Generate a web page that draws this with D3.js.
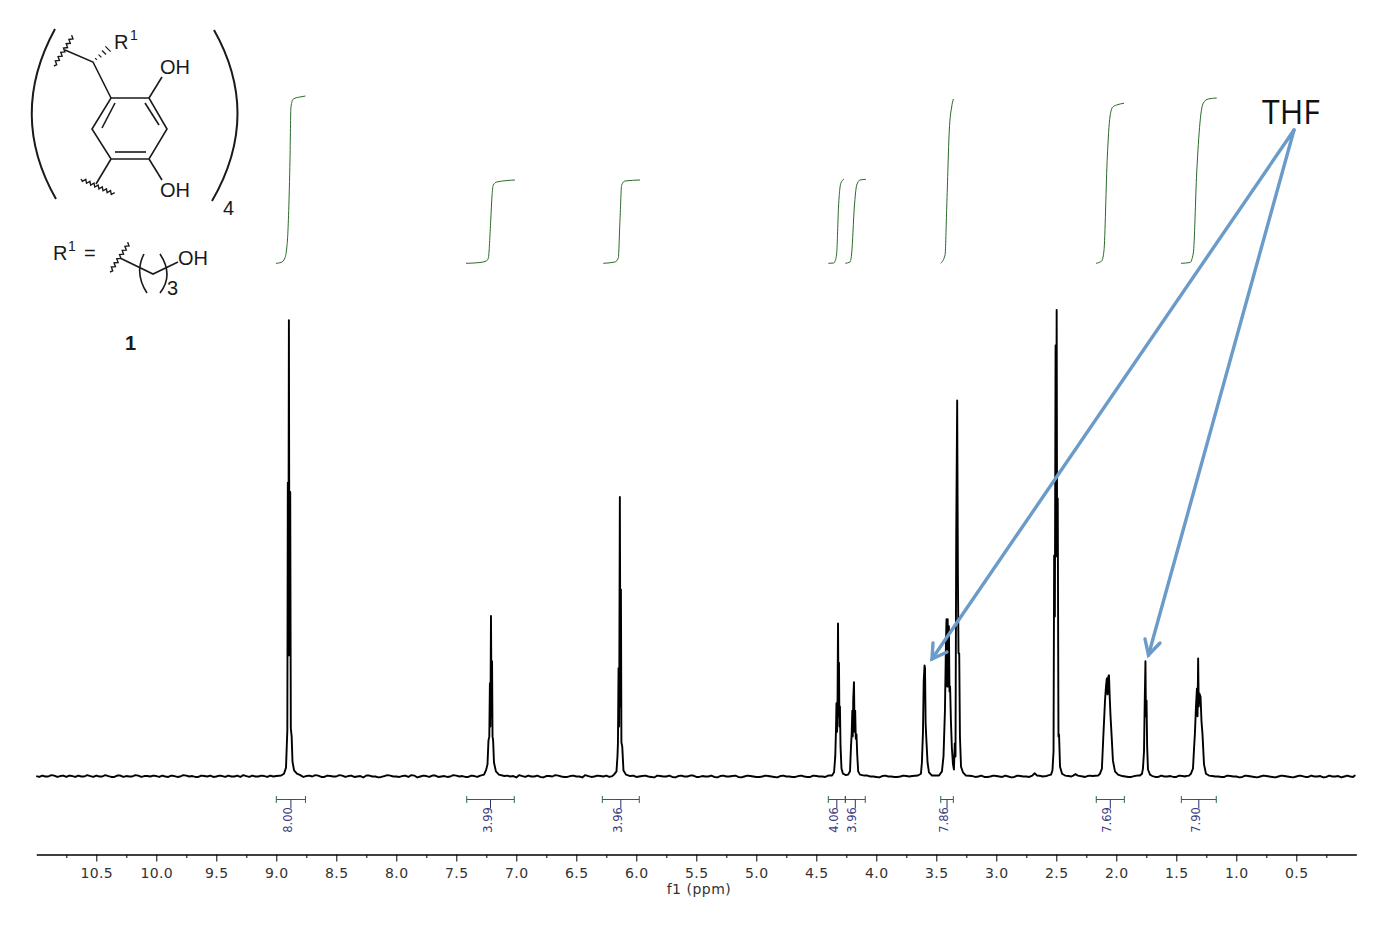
<!DOCTYPE html>
<html>
<head>
<meta charset="utf-8">
<script src="https://cdnjs.cloudflare.com/ajax/libs/d3/7.8.5/d3.min.js"></script>
<style>
  body { margin: 0; background: #fff; }
  svg { display: block; }
  .chem { font-family: "Liberation Sans", Arial, sans-serif; fill: #1a1a1a; }
</style>
</head>
<body>
<script>
// axis ticks (ppm)
var majorTicks = [10.5, 10.0, 9.5, 9.0, 8.5, 8.0, 7.5, 7.0, 6.5, 6.0, 5.5, 5.0, 4.5, 4.0, 3.5, 3.0, 2.5, 2.0, 1.5, 1.0, 0.5];
var minorTicks = [10.75, 10.25, 9.75, 9.25, 8.75, 8.25, 7.75, 7.25, 6.75, 6.25, 5.75, 5.25, 4.75, 4.25, 3.75, 3.25, 2.75, 2.25, 1.75, 1.25, 0.75, 0.25];

// baseline between the peaks
var baselinePpm = [
  11.00, 10.95, 10.90, 10.85, 10.80, 10.75, 10.70, 10.65, 10.60, 10.55,
  10.50, 10.45, 10.40, 10.35, 10.30, 10.25, 10.20, 10.15, 10.10, 10.05,
  10.00, 9.95, 9.90, 9.85, 9.80, 9.75, 9.70, 9.65, 9.60, 9.55,
  9.50, 9.45, 9.40, 9.35, 9.30, 9.25, 9.20, 9.15, 9.10, 9.05,
  9.00, 8.96, 8.80, 8.75, 8.70, 8.65, 8.60, 8.55, 8.50, 8.45,
  8.40, 8.35, 8.30, 8.25, 8.20, 8.15, 8.10, 8.05, 8.00, 7.95,
  7.90, 7.85, 7.80, 7.75, 7.70, 7.65, 7.60, 7.55, 7.50, 7.45,
  7.40, 7.35, 7.30, 7.10, 7.05, 7.00, 6.95, 6.90, 6.85, 6.80,
  6.75, 6.70, 6.65, 6.60, 6.55, 6.50, 6.45, 6.40, 6.35, 6.30,
  6.25, 6.20, 6.05, 6.00, 5.95, 5.90, 5.85, 5.80, 5.75, 5.70,
  5.65, 5.60, 5.55, 5.50, 5.45, 5.40, 5.35, 5.30, 5.25, 5.20,
  5.15, 5.10, 5.05, 5.00, 4.95, 4.90, 4.85, 4.80, 4.75, 4.70,
  4.65, 4.60, 4.55, 4.50, 4.45, 4.40, 4.10, 4.05, 4.00, 3.95,
  3.90, 3.85, 3.80, 3.75, 3.70, 3.20, 3.15, 3.10, 3.05, 3.00,
  2.95, 2.90, 2.85, 2.80, 2.75, 2.70, 2.68, 2.66, 2.62, 2.58,
  2.40, 2.36, 2.34, 2.32, 2.28, 2.24, 2.20, 1.95, 1.90, 1.85,
  1.70, 1.65, 1.60, 1.55, 1.50, 1.45, 1.42, 1.20, 1.15, 1.10,
  1.05, 1.00, 0.95, 0.90, 0.85, 0.80, 0.75, 0.70, 0.65, 0.60,
  0.55, 0.50, 0.45, 0.40, 0.35, 0.30, 0.25, 0.20, 0.15, 0.10
];
var baselineIntensity = [
  0.1, 0.2, 0.0, 0.2, 0.1, -0.1, 0.1, 0.2, 0.0, 0.1,
  0.2, 0.0, 0.1, -0.1, 0.2, 0.1, 0.0, 0.2, 0.1, 0.0,
  0.1, 0.2, -0.1, 0.1, 0.0, 0.2, 0.1, -0.1, 0.1, 0.2,
  0.0, 0.1, 0.2, 0.0, -0.1, 0.1, 0.2, 0.0, 0.1, 0.2,
  0.1, 0.2, 0.3, 0.1, 0.0, 0.2, -0.1, 0.1, 0.0, 0.2,
  0.1, -0.1, 0.1, 0.2, 0.0, -0.2, 0.1, 0.2, 0.0, 0.1,
  -0.1, 0.2, 0.0, 0.1, 0.2, -0.1, 0.1, 0.0, 0.2, 0.1,
  -0.1, 0.1, 0.2, 0.1, 0.0, -0.2, 0.1, 0.2, 0.0, -0.1,
  0.1, 0.0, 0.2, -0.1, 0.1, 0.0, -0.2, 0.1, 0.0, 0.1,
  0.2, 0.1, 0.1, -0.1, 0.1, 0.0, -0.2, 0.1, 0.0, -0.1,
  0.1, 0.0, 0.2, -0.1, 0.1, 0.0, -0.1, 0.1, 0.0, 0.1,
  -0.1, 0.0, 0.1, -0.1, 0.0, 0.1, -0.1, 0.1, 0.0, -0.1,
  0.1, 0.0, -0.1, 0.1, 0.0, 0.2, 0.2, 0.0, -0.1, 0.1,
  0.0, -0.1, 0.0, 0.1, 0.1, 0.1, 0.0, -0.1, 0.0, 0.1,
  -0.1, 0.0, -0.1, 0.1, 0.0, 0.2, 0.7, 0.2, 0.0, 0.1,
  0.1, 0.2, 0.5, 0.2, 0.0, 0.1, 0.1, 0.1, -0.1, 0.1,
  0.1, -0.1, 0.0, 0.1, -0.1, 0.1, 0.1, 0.1, 0.0, -0.1,
  0.1, 0.0, -0.1, 0.1, -0.1, 0.0, 0.1, -0.1, 0.0, 0.1,
  -0.1, 0.0, 0.1, -0.1, 0.0, 0.1, -0.1, 0.0, 0.1, 0.0
];

// second pass over the baseline, halfway between the points above
var noisePpm = [
  10.975, 10.925, 10.875, 10.825, 10.775, 10.725, 10.675, 10.625, 10.575, 10.525,
  10.475, 10.425, 10.375, 10.325, 10.275, 10.225, 10.175, 10.125, 10.075, 10.025,
  9.975, 9.925, 9.875, 9.825, 9.775, 9.725, 9.675, 9.625, 9.575, 9.525,
  9.475, 9.425, 9.375, 9.325, 9.275, 9.225, 9.175, 9.125, 9.075, 9.025,
  8.775, 8.725, 8.675, 8.625, 8.575, 8.525, 8.475, 8.425, 8.375, 8.325,
  8.275, 8.225, 8.175, 8.125, 8.075, 8.025, 7.975, 7.925, 7.875, 7.825,
  7.775, 7.725, 7.675, 7.625, 7.575, 7.525, 7.475, 7.425, 7.375, 7.325,
  7.075, 7.025, 6.975, 6.925, 6.875, 6.825, 6.775, 6.725, 6.675, 6.625,
  6.575, 6.525, 6.475, 6.425, 6.375, 6.325, 6.275, 6.225, 6.025, 5.975,
  5.925, 5.875, 5.825, 5.775, 5.725, 5.675, 5.625, 5.575, 5.525, 5.475,
  5.425, 5.375, 5.325, 5.275, 5.225, 5.175, 5.125, 5.075, 5.025, 4.975,
  4.925, 4.875, 4.825, 4.775, 4.725, 4.675, 4.625, 4.575, 4.525, 4.475,
  4.425, 4.075, 4.025, 3.975, 3.925, 3.875, 3.825, 3.775, 3.725, 3.175,
  3.125, 3.075, 3.025, 2.975, 2.925, 2.875, 2.825, 2.775, 2.725, 2.625,
  2.575, 2.375, 2.26, 2.22, 1.925, 1.875, 1.825, 1.675, 1.625, 1.575,
  1.525, 1.475, 1.425, 1.175, 1.125, 1.075, 1.025, 0.975, 0.925, 0.875,
  0.825, 0.775, 0.725, 0.675, 0.625, 0.575, 0.525, 0.475, 0.425, 0.375,
  0.325, 0.275, 0.225, 0.175, 0.125, 0.075, 0.05, 0.025, 0.015, 0.01
];
var noiseIntensity = [
  -0.1, 0.0, 0.3, -0.1, 0.2, 0.2, -0.1, 0.0, 0.3, -0.1,
  0.0, 0.3, -0.1, 0.2, -0.1, 0.0, 0.3, -0.1, 0.1, 0.2,
  -0.1, 0.0, 0.2, -0.1, 0.3, 0.0, -0.1, 0.2, 0.0, -0.1,
  0.2, -0.1, 0.0, 0.2, 0.3, -0.1, 0.0, 0.2, -0.1, 0.0,
  -0.1, 0.2, 0.3, -0.1, 0.2, 0.0, 0.3, -0.1, 0.2, 0.0,
  -0.2, 0.2, 0.0, -0.1, 0.3, 0.0, -0.1, 0.2, 0.3, -0.2,
  0.2, -0.1, 0.2, 0.0, -0.1, 0.3, 0.0, -0.1, 0.2, -0.1,
  0.2, 0.1, 0.3, -0.1, 0.0, 0.2, -0.2, 0.1, 0.3, 0.0,
  -0.1, 0.2, 0.0, 0.3, -0.1, 0.2, 0.0, -0.1, 0.2, 0.0,
  0.2, -0.1, 0.2, 0.0, 0.2, -0.2, 0.2, 0.0, 0.2, -0.1,
  0.0, 0.2, -0.2, 0.2, 0.0, 0.2, -0.2, 0.2, 0.0, -0.1,
  0.2, 0.0, -0.2, 0.2, 0.0, -0.1, 0.2, -0.1, 0.2, 0.0,
  -0.1, 0.2, 0.0, -0.2, 0.2, 0.0, -0.1, 0.2, 0.0, -0.1,
  0.2, -0.1, 0.2, 0.0, 0.2, -0.2, 0.2, 0.0, -0.1, 0.1,
  0.2, 0.0, -0.1, 0.2, 0.0, -0.1, 0.2, -0.1, 0.2, 0.0,
  -0.1, 0.2, 0.0, 0.0, -0.1, 0.2, 0.0, -0.2, 0.2, 0.0,
  -0.2, 0.2, 0.0, -0.2, 0.2, 0.0, -0.2, 0.2, -0.1, 0.2,
  0.0, -0.2, 0.2, 0.0, -0.2, 0.2, 0.0, -0.1, 0.2, 0.0
];

// peak shapes, intensity as % of the tallest line (solvent at 2.5)
var peak89Ppm = [8.936, 8.919, 8.913, 8.908, 8.904, 8.900, 8.895, 8.890, 8.884, 8.879, 8.872, 8.865, 8.852, 8.828];
var peak89Int = [0.6, 1.9, 6.4, 9.9, 63, 26, 97.8, 26, 61, 10.3, 8.6, 3.2, 1.3, 0.6];
var peak72Ppm = [7.269, 7.253, 7.240, 7.232, 7.225, 7.220, 7.216, 7.211, 7.206, 7.202, 7.198, 7.193, 7.186, 7.170, 7.145];
var peak72Int = [0.4, 1.3, 2.6, 7.7, 8.6, 20, 10.7, 34.4, 12.9, 24.7, 8.6, 7.7, 3, 1.1, 0.4];
var peak61Ppm = [6.186, 6.165, 6.157, 6.153, 6.148, 6.143, 6.137, 6.132, 6.128, 6.124, 6.117, 6.107, 6.086];
var peak61Int = [0.4, 1.1, 4.3, 7.1, 23.2, 10.7, 59.9, 15, 40.1, 7.3, 6.4, 1.3, 0.4];
var peak43Ppm = [4.369, 4.352, 4.342, 4.336, 4.332, 4.327, 4.323, 4.319, 4.314, 4.311, 4.307, 4.303, 4.298, 4.290, 4.278, 4.253, 4.236];
var peak43Int = [0.2, 0.9, 4.3, 9.9, 15.7, 9.6, 16, 32.8, 12.9, 24.4, 10.7, 15, 6.4, 1.7, 0.6, 0.3, 0.4];
var peak42Ppm = [4.219, 4.211, 4.205, 4.200, 4.196, 4.192, 4.186, 4.181, 4.176, 4.171, 4.165, 4.159, 4.151, 4.136];
var peak42Int = [1.1, 6.4, 9.2, 14.1, 8.6, 16.7, 20.2, 9.6, 14.1, 8.1, 9, 4.7, 1.1, 0.4];
var peak36Ppm = [3.653, 3.628, 3.620, 3.611, 3.605, 3.598, 3.594, 3.589, 3.582, 3.573, 3.561, 3.536];
var peak36Int = [0.2, 0.6, 3, 9.6, 20.4, 23.8, 23.2, 11.4, 7.5, 3, 0.9, 0.2];
var peak34Ppm = [3.477, 3.453, 3.440, 3.428, 3.420, 3.415, 3.410, 3.405, 3.400, 3.395, 3.390, 3.385, 3.378, 3.370, 3.361, 3.353, 3.346, 3.340, 3.334, 3.326, 3.320, 3.315, 3.309, 3.303, 3.294, 3.278, 3.253];
var peak34Int = [0.2, 1.1, 4.3, 14.1, 27.9, 33.7, 19.3, 33.7, 19.3, 32.2, 18.2, 19.3, 11.8, 6, 2.6, 1.5, 7.1, 4.3, 51.4, 80.6, 42.9, 26.4, 26.4, 8.6, 2.1, 0.9, 0.2];
var peak25Ppm = [2.544, 2.532, 2.523, 2.518, 2.512, 2.506, 2.502, 2.497, 2.493, 2.488, 2.482, 2.477, 2.469, 2.452, 2.427];
var peak25Int = [0.4, 1.3, 5.4, 47.4, 34.3, 92.4, 47.2, 100, 47.2, 59.6, 8.6, 9, 2.1, 0.6, 0.2];
var peak21Ppm = [2.152, 2.136, 2.120, 2.107, 2.094, 2.086, 2.079, 2.073, 2.067, 2.061, 2.055, 2.048, 2.040, 2.028, 2.011, 1.986];
var peak21Int = [0.2, 0.6, 1.7, 9.2, 16.3, 19.3, 21, 17.6, 21.4, 21.7, 17.1, 12.9, 9.2, 3.4, 1.1, 0.4];
var peak18Ppm = [1.803, 1.786, 1.778, 1.769, 1.763, 1.757, 1.753, 1.748, 1.743, 1.736, 1.719];
var peak18Int = [0.2, 0.6, 1.7, 5.4, 16.3, 24.7, 12.9, 16.3, 6.4, 1.5, 0.4];
var peak13Ppm = [1.394, 1.378, 1.361, 1.353, 1.345, 1.336, 1.328, 1.323, 1.318, 1.313, 1.307, 1.298, 1.290, 1.282, 1.269, 1.253, 1.228];
var peak13Int = [0.2, 0.6, 1.7, 5.6, 9.2, 15, 18.9, 12.9, 25.3, 15, 17.8, 17.1, 11.8, 9.2, 2.6, 0.6, 0.2];

// integral traces (ppm, rise of the trace)
var int1Ppm = [9.003, 8.961, 8.928, 8.913, 8.907, 8.886, 8.878, 8.858, 8.803, 8.757];
var int1Rise = [0.7, 1.5, 6, 16, 24, 104, 157, 165, 167, 168];
var int2Ppm = [7.419, 7.303, 7.250, 7.233, 7.213, 7.203, 7.192, 7.163, 7.011];
var int2Rise = [0.7, 1.5, 3, 6, 44, 67, 79, 82, 84];
var int3Ppm = [6.275, 6.178, 6.150, 6.136, 6.122, 6.094, 5.969];
var int3Rise = [0.7, 2, 6, 44, 79, 83, 84];
var int4Ppm = [4.400, 4.355, 4.343, 4.330, 4.315, 4.303, 4.295, 4.269];
var int4Rise = [0.7, 1, 3, 11, 57, 76, 81, 85];
var int5Ppm = [4.258, 4.219, 4.205, 4.183, 4.163, 4.136, 4.086];
var int5Rise = [0.7, 2, 11, 57, 79, 84, 84.7];
var int6Ppm = [3.463, 3.427, 3.413, 3.392, 3.372, 3.358];
var int6Rise = [0.7, 9, 57, 133, 157, 165];
var int7Ppm = [2.169, 2.122, 2.103, 2.075, 2.053, 2.030, 1.997, 1.936];
var int7Rise = [0.7, 3, 13, 107, 147, 157, 159, 160.7];
var int8Ppm = [1.461, 1.386, 1.358, 1.330, 1.303, 1.275, 1.233, 1.163];
var int8Rise = [0.7, 1.5, 11, 91, 141, 161, 165, 166];

// integral brackets
var bracketFrom = [9.00, 7.413, 6.283, 4.40, 4.258, 3.463, 2.167, 1.458];
var bracketTo = [8.757, 7.017, 5.975, 4.258, 4.092, 3.358, 1.933, 1.167];
var bracketLabels = ["8.00", "3.99", "3.96", "4.06", "3.96", "7.86", "7.69", "7.90"];

var svgWidth = 1386;
var svgHeight = 930;

var svg = d3.select("body")
  .append("svg")
  .attr("width", svgWidth)
  .attr("height", svgHeight);

svg.append("rect").attr("width", svgWidth).attr("height", svgHeight).attr("fill", "#fff");

// scales
var xScale = d3.scaleLinear().domain([11, 0]).range([36.3, 1356.3]);
var yScale = d3.scaleLinear().domain([0, 100]).range([776.5, 310]);
var riseScale = d3.scaleLinear().domain([0, 168]).range([264, 96]);

function zip(xs, ys) {
  return xs.map(function (v, i) { return [v, ys[i]]; });
}

// spectrum trace: baseline and peaks merged along the ppm axis
var spectrum = zip(baselinePpm, baselineIntensity)
  .concat(zip(noisePpm, noiseIntensity),
    zip(peak89Ppm, peak89Int), zip(peak72Ppm, peak72Int), zip(peak61Ppm, peak61Int),
    zip(peak43Ppm, peak43Int), zip(peak42Ppm, peak42Int), zip(peak36Ppm, peak36Int),
    zip(peak34Ppm, peak34Int), zip(peak25Ppm, peak25Int), zip(peak21Ppm, peak21Int),
    zip(peak18Ppm, peak18Int), zip(peak13Ppm, peak13Int))
  .sort(function (a, b) { return b[0] - a[0]; });

var spectrumLine = d3.line()
  .x(function (d) { return xScale(d[0]); })
  .y(function (d) { return yScale(d[1]); });

svg.append("path")
  .datum(spectrum)
  .attr("d", spectrumLine)
  .attr("fill", "none")
  .attr("stroke", "#000")
  .attr("stroke-width", 1.9)
  .attr("stroke-linejoin", "round");

// integral curves
var integrals = [zip(int1Ppm, int1Rise), zip(int2Ppm, int2Rise), zip(int3Ppm, int3Rise), zip(int4Ppm, int4Rise),
  zip(int5Ppm, int5Rise), zip(int6Ppm, int6Rise), zip(int7Ppm, int7Rise), zip(int8Ppm, int8Rise)];

var integralLine = d3.line()
  .curve(d3.curveMonotoneX)
  .x(function (d) { return xScale(d[0]); })
  .y(function (d) { return riseScale(d[1]); });

svg.selectAll(".integral")
  .data(integrals)
  .enter()
  .append("path")
  .attr("class", "integral")
  .attr("d", integralLine)
  .attr("fill", "none")
  .attr("stroke", "#2a6a2a")
  .attr("stroke-width", 1);

// brackets under the peaks
var barY = 799.5;
var brackets = svg.selectAll(".bracket")
  .data(bracketLabels)
  .enter()
  .append("g")
  .attr("class", "bracket");

brackets.append("line")
  .attr("x1", function (d, i) { return xScale(bracketFrom[i]); })
  .attr("x2", function (d, i) { return xScale(bracketTo[i]); })
  .attr("y1", barY).attr("y2", barY)
  .attr("stroke", "#2a6a3a");

[bracketFrom, bracketTo].forEach(function (ends) {
  brackets.append("line")
    .attr("x1", function (d, i) { return xScale(ends[i]); })
    .attr("x2", function (d, i) { return xScale(ends[i]); })
    .attr("y1", barY - 3.5).attr("y2", barY + 3.5)
    .attr("stroke", "#2a6a3a");
});

function stemX(i) {
  return (xScale(bracketFrom[i]) + xScale(bracketTo[i])) / 2;
}

brackets.append("line")
  .attr("x1", function (d, i) { return stemX(i); })
  .attr("x2", function (d, i) { return stemX(i); })
  .attr("y1", barY).attr("y2", barY + 9)
  .attr("stroke", "#2c2c70");

brackets.append("text")
  .attr("transform", function (d, i) { return "translate(" + (stemX(i) + 1) + "," + 820 + ") rotate(-90)"; })
  .attr("text-anchor", "middle")
  .style("font-family", "'DejaVu Sans', sans-serif")
  .style("font-size", "11.5px")
  .style("fill", "#3a3a80")
  .text(function (d) { return d; });

// axis
var axisY = 854.5;
var majorAxis = d3.axisBottom(xScale)
  .tickValues(majorTicks)
  .tickSize(7)
  .tickSizeOuter(0)
  .tickFormat(d3.format(".1f"));
var minorAxis = d3.axisBottom(xScale)
  .tickValues(minorTicks)
  .tickSize(3.5)
  .tickSizeOuter(0)
  .tickFormat("");

svg.append("g").attr("transform", "translate(0," + axisY + ")").call(minorAxis);
var axisGroup = svg.append("g").attr("transform", "translate(0," + axisY + ")").call(majorAxis);
axisGroup.selectAll("text")
  .attr("y", 14)
  .style("font-family", "'DejaVu Sans', sans-serif")
  .style("font-size", "14px")
  .style("letter-spacing", "0.4px")
  .style("fill", "#333");

svg.append("text")
  .attr("x", 699)
  .attr("y", 894)
  .attr("text-anchor", "middle")
  .style("font-family", "'DejaVu Sans', sans-serif")
  .style("font-size", "14px")
  .style("letter-spacing", "0.5px")
  .style("fill", "#333")
  .text("f1 (ppm)");

// THF annotation
svg.append("text")
  .attr("x", 1262)
  .attr("y", 124)
  .style("font-family", "'Open Sans', sans-serif")
  .style("font-size", "32px")
  .style("fill", "#111")
  .text("THF");

var arrowColor = "#6a9bc9";
var arrowPaths = [
  "M1294,130L932,659", "M933,643L932,659L947,652",
  "M1294,130L1148.5,655", "M1145,639L1148.5,655L1160,643"
];
svg.selectAll(".arrow")
  .data(arrowPaths)
  .enter()
  .append("path")
  .attr("class", "arrow")
  .attr("d", function (d) { return d; })
  .attr("fill", "none")
  .attr("stroke", arrowColor)
  .attr("stroke-width", 3.4)
  .attr("stroke-linecap", "round");

// structure drawing in the top left corner
var chem = svg.append("g");

var bonds = [
  "M111,98L149,98L167,129L149,159L111,159L92,129Z",
  "M115,103L102,128", "M145,103L159,125", "M115,152L146,152",
  "M111,98L93,62L65,50", "M149,98L162,77", "M149,159L162,180", "M111,159L96,184",
  "M120,258L153,274L178,262"
];
chem.selectAll(".bond")
  .data(bonds)
  .enter()
  .append("path")
  .attr("class", "bond")
  .attr("d", function (d) { return d; })
  .attr("fill", "none")
  .attr("stroke", "#1a1a1a")
  .attr("stroke-width", 1.6);

var parens = ["M55,29Q8,115 56,199", "M214,30Q262,115 212,201", "M144,254Q134,273 147,293", "M160,254Q174,275 160,293"];
chem.selectAll(".paren")
  .data(parens)
  .enter()
  .append("path")
  .attr("class", "paren")
  .attr("d", function (d) { return d; })
  .attr("fill", "none")
  .attr("stroke", "#1a1a1a")
  .attr("stroke-width", function (d, i) { return i < 2 ? 2 : 1.6; });

// wavy attachment bonds
function wavy(x1, y1, x2, y2, n) {
  var dx = (x2 - x1) / n, dy = (y2 - y1) / n;
  var len = Math.sqrt(dx * dx + dy * dy);
  var nx = -dy / len * 1.6, ny = dx / len * 1.6;
  var p = "M" + x1 + "," + y1;
  for (var i = 1; i <= n; i++) {
    var s = i % 2 ? 1 : -1;
    p += "L" + (x1 + dx * i + nx * s) + "," + (y1 + dy * i + ny * s);
  }
  return p;
}
[[54, 66, 73, 36, 14], [81, 179, 114, 194, 16], [110, 272, 129, 243, 14]].forEach(function (w) {
  chem.append("path")
    .attr("d", wavy(w[0], w[1], w[2], w[3], w[4]))
    .attr("fill", "none")
    .attr("stroke", "#1a1a1a")
    .attr("stroke-width", 1.4);
});

// hashed bond to R1
[[96, 59, 0.8], [100, 56, 1.4], [104, 52.5, 2], [108, 49, 2.6]].forEach(function (h) {
  chem.append("line")
    .attr("x1", h[0] - h[2]).attr("y1", h[1] - h[2])
    .attr("x2", h[0] + h[2]).attr("y2", h[1] + h[2])
    .attr("stroke", "#1a1a1a")
    .attr("stroke-width", 1.2);
});

var chemLabels = [
  ["R", 114, 49, 20, "normal"], ["1", 130, 40, 14, "normal"],
  ["OH", 160, 74, 20, "normal"], ["OH", 160, 197, 20, "normal"],
  ["4", 223, 215, 20, "normal"],
  ["R", 53, 260, 20, "normal"], ["1", 68, 251, 14, "normal"], ["=", 84, 260, 20, "normal"],
  ["OH", 178, 265, 20, "normal"], ["3", 167, 295, 20, "normal"],
  ["1", 125, 350, 20, "bold"]
];
chem.selectAll(".label")
  .data(chemLabels)
  .enter()
  .append("text")
  .attr("class", "chem")
  .attr("x", function (d) { return d[1]; })
  .attr("y", function (d) { return d[2]; })
  .style("font-size", function (d) { return d[3] + "px"; })
  .style("font-weight", function (d) { return d[4]; })
  .text(function (d) { return d[0]; });
</script>
</body>
</html>
